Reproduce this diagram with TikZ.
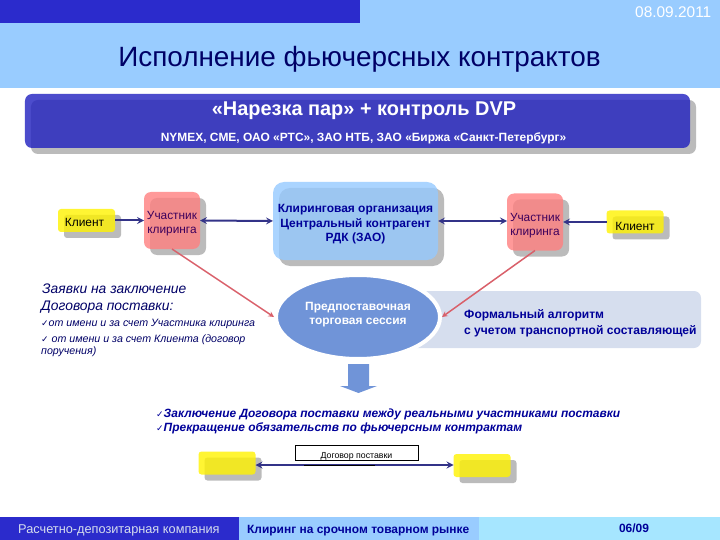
\documentclass[tikz,border=0pt]{standalone}
\usepackage{fontspec}
\setmainfont{Liberation Sans}
\newfontfamily\checkfont{DejaVu Sans}
\usetikzlibrary{arrows,shapes,shadows}
\definecolor{navytext}{HTML}{000099}
\definecolor{deepnavy}{HTML}{000066}
\definecolor{darkband}{HTML}{2B2BCC}
\definecolor{skyband}{HTML}{99CCFF}
\definecolor{paleband}{HTML}{A6E6FF}
\definecolor{shadegray}{HTML}{BBBBBB}
\definecolor{linkblue}{HTML}{333388}
\definecolor{linkred}{HTML}{D9606A}
\definecolor{sessblue}{HTML}{7094D8}
\definecolor{algofill}{HTML}{D6DEEE}
\tikzset{
  shadebox/.style={rectangle,rounded corners=7bp,inner sep=0pt,outer sep=0pt,align=center,
    fill opacity=.8,text opacity=1,
    general shadow={fill=shadegray,fill opacity=1,shadow xshift=6bp,shadow yshift=-6bp}},
  clientbox/.style={shadebox,fill=yellow,minimum width=57bp,minimum height=23bp,rounded corners=3bp,
    font=\fontsize{12}{14}\selectfont,text=black},
  memberbox/.style={shadebox,fill=red!50!white,minimum width=56bp,minimum height=57bp,
    font=\fontsize{11.9}{14}\selectfont,text=blue!60!red!60!black},
  oneway/.style={->,>=stealth,linkblue,line width=2bp},
  link/.style={<->,>=stealth,linkblue,line width=2bp},
  redlink/.style={->,>=stealth,linkred,line width=1.5bp},
  plaintext/.style={inner sep=0pt,anchor=west,text=navytext},
}
\newcommand{\tick}{{\checkfont\fontsize{9}{9}\selectfont ✓}}
\newcommand{\lowertext}[1]{\rule{0pt}{#1}}
\begin{document}
\begin{tikzpicture}[x=1bp,y=-1bp]
  \useasboundingbox (0,0) rectangle (720,540);

  %Draw header and footer bands
  \fill[skyband] (0,0) rectangle (720,88.5);
  \fill[darkband] (0,0) rectangle (360,23);
  \fill[darkband] (0,517) rectangle (239,540);
  \fill[skyband] (239,517) rectangle (479,540);
  \fill[paleband] (479,517) rectangle (720,540);

  \node[white,anchor=east,inner sep=0pt,font=\fontsize{15.5}{18}\selectfont] (date) at (711.5,12) {08.09.2011};
  \node[deepnavy,inner sep=0pt,font=\fontsize{28}{32}\selectfont] (title) at (359.5,59) {Исполнение фьючерсных контрактов};

  %Draw upper band
  \node[shadebox,fill={rgb,255:red,31;green,31;blue,191},minimum width=665bp,minimum height=54bp] (band) at (357.5,121) {};
  \node[white,inner sep=0pt,font=\bfseries\fontsize{20}{23}\selectfont] (bandtop) at (364,111) {«Нарезка пар» + контроль DVP};
  \node[white,inner sep=0pt,font=\bfseries\fontsize{12}{14}\selectfont] (bandsub) at (363.5,138) {NYMEX, CME, ОАО «РТС», ЗАО НТБ, ЗАО «Биржа «Санкт-Петербург»};

  %Draw clearing row
  \node[clientbox] (clientL) at (86.5,220.5) {\lowertext{13bp}\hspace{-4bp}Клиент};
  \node[memberbox] (memberL) at (172,220.5) {\lowertext{15bp}Участник\\клиринга};
  \node[shadebox,fill={rgb,255:red,149;green,201;blue,255},minimum width=165bp,minimum height=78bp,rounded corners=11bp,
    text=navytext,font=\bfseries\fontsize{12}{14.5}\selectfont] (clearing) at (355.5,221) {\lowertext{15bp}Клиринговая организация\\Центральный контрагент\\РДК (ЗАО)};
  \node[memberbox] (memberR) at (535,222) {\lowertext{15bp}Участник\\клиринга};
  \node[clientbox] (clientR) at (635,222) {\lowertext{17bp}Клиент};

  %Draw session and algorithm
  \node[rectangle,rounded corners=7bp,fill=algofill,minimum width=301bp,minimum height=57bp,inner sep=0pt] (algo) at (550.5,319.5) {};
  \node[ellipse,fill=sessblue,draw=white,line width=4bp,minimum width=164bp,minimum height=84bp,inner sep=0pt,
    align=center,text=white,font=\bfseries\fontsize{12}{14.5}\selectfont] (session) at (358,317) {Предпоставочная\\торговая сессия\rule[-7bp]{0pt}{7bp}};
  \node[plaintext,font=\bfseries\fontsize{12.1}{14}\selectfont] (algoA) at (464,315) {Формальный алгоритм};
  \node[plaintext,font=\bfseries\fontsize{12.1}{14}\selectfont] (algoB) at (464,331) {с учетом транспортной составляющей};
  \fill[sessblue] (348,364) -- (369,364) -- (369,386) -- (377,386) -- (358.5,393) -- (340,386) -- (348,386) -- cycle;

  %Draw connectors
  \draw[oneway] (clientL.east) -- (memberL.west);
  \draw[link] (memberL.east) -- (clearing.west);
  \draw[link] (clearing.east) -- (clearing.east -| memberR.west);
  \draw[oneway] (clientR.west) -- (memberR.east);
  \draw[redlink] (memberL.south) -- (session.west);
  \draw[redlink] (memberR.south) -- (session.east);

  %Draw left text
  \node[plaintext,text=deepnavy,font=\itshape\fontsize{13.9}{16}\selectfont] (orderA) at (42,289) {Заявки на заключение};
  \node[plaintext,text=deepnavy,font=\itshape\fontsize{13.9}{16}\selectfont] (orderB) at (41,307) {Договора поставки:};
  \node[plaintext,text=deepnavy,font=\itshape\fontsize{10.7}{12}\selectfont] (orderC) at (41,324) {\tick от имени и за счет Участника клиринга};
  \node[plaintext,text=deepnavy,font=\itshape\fontsize{10.7}{12}\selectfont] (orderD) at (41,340) {\tick\ от имени и за счет Клиента (договор};
  \node[plaintext,text=deepnavy,font=\itshape\fontsize{10.7}{12}\selectfont] (orderE) at (41,352) {поручения)};

  %Draw lower text
  \node[plaintext,font=\bfseries\itshape\fontsize{12}{14}\selectfont] (resultA) at (156,414) {\tick Заключение Договора поставки между реальными участниками поставки};
  \node[plaintext,font=\bfseries\itshape\fontsize{12}{14}\selectfont] (resultB) at (156,428) {\tick Прекращение обязательств по фьючерсным контрактам};

  %Draw delivery contract
  \node[clientbox] (partyL) at (227,463) {};
  \node[clientbox] (partyR) at (482,465.5) {};
  \coordinate (contractA) at (304,465);
  \coordinate (contractB) at (375,465);
  \draw[link] (partyL.east |- contractA) -- (partyR.west |- contractA);
  \draw[black,line width=.7bp] (contractA) -- (contractB);
  \node[draw=black,fill=white,minimum width=123bp,minimum height=15bp,inner sep=0pt,line width=.7bp,
    font=\fontsize{8.8}{10}\selectfont] (contract) at (356.5,452.5) {\lowertext{13bp}Договор поставки};

  %Draw footer text
  \node[plaintext,text=algofill,font=\fontsize{12.8}{15}\selectfont] (footA) at (18,530) {Расчетно-депозитарная компания};
  \node[plaintext,font=\bfseries\fontsize{12}{14}\selectfont] (footB) at (247,531) {Клиринг на срочном товарном рынке};
  \node[navytext,inner sep=0pt,font=\bfseries\fontsize{12}{14}\selectfont] (page) at (634,528.5) {06/09};
\end{tikzpicture}
\end{document}
